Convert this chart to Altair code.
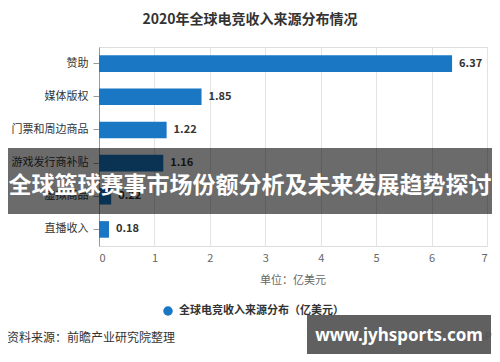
import altair as alt
import pandas as pd

categories = ["赞助", "媒体版权", "门票和周边商品", "游戏发行商补贴", "虚拟商品", "直播收入"]
values = [6.37, 1.85, 1.22, 1.16, 0.22, 0.18]
x_ticks = [0, 1, 2, 3, 4, 5, 6, 7]

title_text = ["2020年全球电竞收入来源分布情况"]
unit_text = ["单位：亿美元"]
legend_text = ["全球电竞收入来源分布（亿美元）"]
source_text = ["资料来源：前瞻产业研究院整理"]
banner_text = ["全球篮球赛事市场份额分析及未来发展趋势探讨"]
site_text = ["www.jyhsports.com"]
app_text = ["APP"]

FONT = "Noto Sans CJK SC"
BLUE = "#1a77c4"

df = pd.DataFrame({"cat": categories, "val": values})
df["lbl"] = [f"{v:.2f}" for v in values]

x_enc = alt.X("val:Q", scale=alt.Scale(domain=[0, 7], nice=False),
              axis=alt.Axis(values=x_ticks, grid=True, gridColor="#e3e3e3", domain=False,
                            ticks=False, labelColor="#666", labelFontSize=11, labelPadding=6,
                            title=None, format="d"))
y_enc = alt.Y("cat:N", sort=categories,
              scale=alt.Scale(paddingInner=0.5, paddingOuter=0.25),
              axis=alt.Axis(domainColor="#999", tickColor="#999", tickSize=6,
                            labelColor="#333", labelFontSize=11, labelPadding=5,
                            title=None, grid=False))

bars = alt.Chart(df).mark_bar(color=BLUE).encode(x=x_enc, y=y_enc)
labels = alt.Chart(df).mark_text(align="left", dx=7, fontWeight="bold", fontSize=11,
                                 color="#333", font=FONT).encode(
    x="val:Q", y=alt.Y("cat:N", sort=categories), text="lbl:N")


def txt(lst, x, y, font=FONT, **kw):
    return alt.Chart(pd.DataFrame({"t": lst})).mark_text(font=font, **kw).encode(
        text="t:N", x=alt.value(x), y=alt.value(y))


def box(x, x2, y, y2, **kw):
    return alt.Chart(pd.DataFrame({"t": [0]})).mark_rect(**kw).encode(
        x=alt.value(x), x2=alt.value(x2), y=alt.value(y), y2=alt.value(y2))


title = txt(title_text, 151, -27, fontSize=14, fontWeight="bold", color="#333")
unit = txt(unit_text, 194, 234, fontSize=11, color="#666")
legend_dot = alt.Chart(pd.DataFrame({"t": [0]})).mark_point(
    shape="circle", filled=True, size=90, color=BLUE, opacity=1).encode(
    x=alt.value(69), y=alt.value(264))
legend_lbl = txt(legend_text, 80, 264, fontSize=11, fontWeight="bold", color="#333", align="left")
source = txt(source_text, -92, 291, fontSize=12, color="#333", align="left")

band = box(-91, 393, 101, 167, color="#000000", opacity=0.58)
band_lbl = txt(banner_text, 151, 139, fontSize=23, fontWeight="bold", color="#ffffff")

site_box = box(208, 392, 268, 307, color="#606060", opacity=1)
app_lbl = txt(app_text, 379, 290, fontSize=11, color="#555", align="left")
site_lbl = txt(site_text, 300, 289, font="Noto Sans", fontSize=17, fontWeight="bold",
               color="#ffffff")

chart = alt.layer(bars, labels, band, band_lbl, title, unit, legend_dot, legend_lbl,
                  source, site_box, app_lbl, site_lbl).properties(
    width=388, height=199,
    padding={"left": 91, "top": 39, "right": 5, "bottom": 108},
    autosize=alt.AutoSizeParams(type="none"),
).configure_view(stroke=None).configure(font=FONT, background="#ffffff")

chart.save("out.html", embed_options={"renderer": "svg", "actions": False})
